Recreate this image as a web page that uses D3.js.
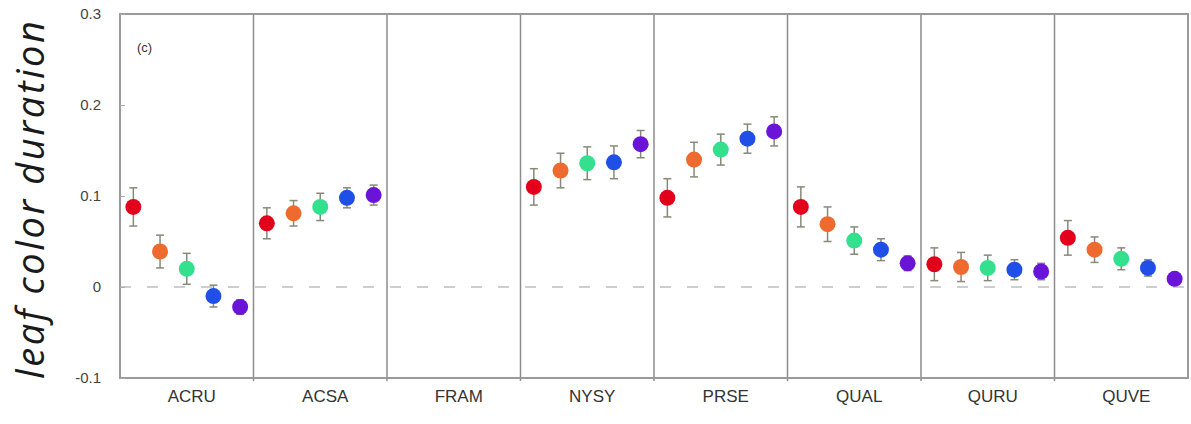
<!DOCTYPE html>
<html>
<head>
<meta charset="utf-8">
<script src="https://cdn.jsdelivr.net/npm/d3@7"></script>
<style>
  body { margin: 0; background: #fff; }
  svg { display: block; }
</style>
</head>
<body>
<div id="chart"></div>
<script>
// species groups along the x axis
var species = ["ACRU", "ACSA", "FRAM", "NYSY", "PRSE", "QUAL", "QURU", "QUVE"];
// five levels inside each group (one colour each)
var levels = ["l1", "l2", "l3", "l4", "l5"];
var levelColors = ["#e3001b", "#ef6a2e", "#33e08e", "#1f4fe6", "#6a14d8"];

// mean effect per species, one value per level (FRAM has none)
var means = [
  [0.088, 0.039, 0.020, -0.010, -0.022],
  [0.070, 0.081, 0.088, 0.098, 0.101],
  [null, null, null, null, null],
  [0.110, 0.128, 0.136, 0.137, 0.157],
  [0.098, 0.140, 0.151, 0.163, 0.171],
  [0.088, 0.069, 0.051, 0.041, 0.026],
  [0.025, 0.022, 0.021, 0.019, 0.017],
  [0.054, 0.041, 0.031, 0.021, 0.009]
];
// half width of the error bars
var errs = [
  [0.021, 0.018, 0.017, 0.012, 0.008],
  [0.017, 0.014, 0.015, 0.011, 0.011],
  [null, null, null, null, null],
  [0.020, 0.019, 0.018, 0.018, 0.015],
  [0.021, 0.019, 0.017, 0.016, 0.016],
  [0.022, 0.019, 0.015, 0.012, 0.008],
  [0.018, 0.016, 0.014, 0.011, 0.009],
  [0.019, 0.014, 0.012, 0.009, 0.005]
];
var yTicks = [-0.1, 0, 0.1, 0.2, 0.3];
var yTickLabels = ["-0.1", "0", "0.1", "0.2", "0.3"];

var margin = {top: 14, right: 3, bottom: 46, left: 120},
    width = 1191 - margin.left - margin.right,
    height = 424 - margin.top - margin.bottom;

var svg = d3.select("#chart")
            .append("svg")
            .attr("width", 1191)
            .attr("height", 424)
            .append("g")
            .attr("transform", "translate(" + margin.left + "," + margin.top + ")");

var x = d3.scaleBand().domain(species).range([0, width]);
var xi = d3.scaleBand().domain(levels).range([0, x.bandwidth()]);
var y = d3.scaleLinear().domain([-0.1, 0.3]).range([height, 0]);

// zero reference line
svg.append("line")
   .attr("x1", 0).attr("x2", width)
   .attr("y1", y(0)).attr("y2", y(0))
   .attr("stroke", "#bdbdbd")
   .attr("stroke-width", 1.5)
   .attr("stroke-dasharray", "11,16");

// panel dividers
svg.selectAll(".divider")
   .data(species.slice(1))
   .enter()
   .append("line")
   .attr("x1", function(d) { return x(d); })
   .attr("x2", function(d) { return x(d); })
   .attr("y1", 0).attr("y2", height + 3)
   .attr("stroke", "#8c8c8c")
   .attr("stroke-width", 1.5);

// frame
svg.append("rect")
   .attr("width", width).attr("height", height)
   .attr("fill", "none")
   .attr("stroke", "#9a9a9a")
   .attr("stroke-width", 2);

// y axis (ticks inside)
var yAxis = svg.append("g")
   .call(d3.axisLeft(y).tickValues(yTicks)
           .tickFormat(function(d, i) { return yTickLabels[i]; })
           .tickSizeInner(-5).tickSizeOuter(0).tickPadding(19));
yAxis.select(".domain").remove();
yAxis.selectAll("line").attr("stroke", "#aaa");
yAxis.selectAll("text")
     .attr("fill", "#444")
     .style("font-family", "Liberation Sans, Arial, sans-serif")
     .style("font-size", "15px");

// x labels
svg.selectAll(".xlab")
   .data(species)
   .enter()
   .append("text")
   .attr("x", function(d) { return x(d) + x.bandwidth() / 2 + 5; })
   .attr("y", height + 24)
   .attr("text-anchor", "middle")
   .attr("fill", "#333")
   .style("font-family", "Liberation Sans, Arial, sans-serif")
   .style("font-size", "17px")
   .text(function(d) { return d; });

// panel letter
svg.append("text")
   .attr("x", 17).attr("y", 38)
   .attr("fill", "#333")
   .style("font-family", "Liberation Sans, Arial, sans-serif")
   .style("font-size", "13px")
   .text("(c)");

// y title
svg.append("text")
   .attr("transform", "translate(" + (-76) + "," + (height / 2 + 4) + ") rotate(-90)")
   .attr("text-anchor", "middle")
   .attr("fill", "#1a1a1a")
   .style("font-family", "Open Sans, sans-serif")
   .style("font-style", "italic")
   .style("font-size", "38px")
   .attr("textLength", 358)
   .attr("lengthAdjust", "spacing")
   .text("leaf color duration");

// flatten points
var points = [];
species.forEach(function(s, si) {
  levels.forEach(function(l, li) {
    if (means[si][li] !== null) {
      points.push({sp: s, lv: l, idx: li, m: means[si][li], e: errs[si][li]});
    }
  });
});

function cx(d) { return x(d.sp) + xi(d.lv) + xi.bandwidth() / 2; }

var eb = svg.selectAll(".err")
   .data(points)
   .enter()
   .append("g")
   .attr("stroke", "#868a78")
   .attr("stroke-width", 1.5);
eb.append("line")
  .attr("x1", cx).attr("x2", cx)
  .attr("y1", function(d) { return y(d.m + d.e); })
  .attr("y2", function(d) { return y(d.m - d.e); });
eb.append("line")
  .attr("x1", function(d) { return cx(d) - 4; })
  .attr("x2", function(d) { return cx(d) + 4; })
  .attr("y1", function(d) { return y(d.m + d.e); })
  .attr("y2", function(d) { return y(d.m + d.e); });
eb.append("line")
  .attr("x1", function(d) { return cx(d) - 4; })
  .attr("x2", function(d) { return cx(d) + 4; })
  .attr("y1", function(d) { return y(d.m - d.e); })
  .attr("y2", function(d) { return y(d.m - d.e); });

svg.selectAll(".dot")
   .data(points)
   .enter()
   .append("circle")
   .attr("cx", cx)
   .attr("cy", function(d) { return y(d.m); })
   .attr("r", 8)
   .attr("fill", function(d) { return levelColors[d.idx]; });
</script>
</body>
</html>
